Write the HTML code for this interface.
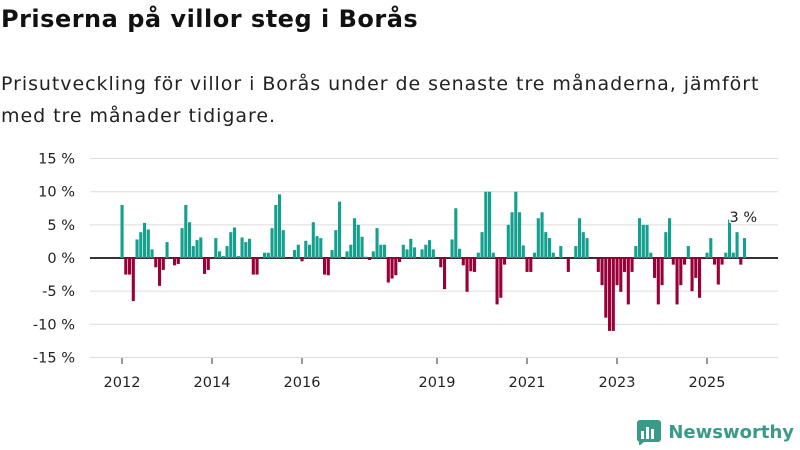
<!DOCTYPE html>
<html><head><meta charset="utf-8"><style>
body{margin:0;width:800px;height:450px;background:#fff;font-family:"DejaVu Sans","Liberation Sans",sans-serif;overflow:hidden;position:relative}
#title{position:absolute;left:1px;top:5px;font-size:24px;letter-spacing:0.5px;font-weight:bold;color:#111}
#subtitle{position:absolute;left:1px;top:68px;font-size:19px;letter-spacing:0.95px;line-height:32px;color:#222;width:798px;white-space:nowrap}
#logo{position:absolute;right:6px;top:419px;display:flex;align-items:center;font-size:18px;font-weight:bold;color:#3a9a88}
</style></head><body>
<div id="title">Priserna på villor steg i Borås</div>
<div id="subtitle">Prisutveckling för villor i Borås under de senaste tre månaderna, jämfört<br>med tre månader tidigare.</div>
<svg id="chart" width="800" height="450" style="position:absolute;left:0;top:0"></svg>
<div id="logo"><svg width="26" height="26" style="margin-right:6px"><rect x="1" y="1" width="24" height="22" rx="3" fill="#3a9a88"/><rect x="5" y="12" width="3" height="8" fill="#fff"/><rect x="10" y="8" width="3" height="12" fill="#fff"/><rect x="15" y="10" width="3" height="10" fill="#fff"/><path d="M3 23 L3 27 L8 23Z" fill="#3a9a88"/></svg>Newsworthy</div>
<script>
const values=[8,-2.5,-2.5,-6.5,2.8,3.9,5.3,4.3,1.3,-1.4,-4.2,-1.8,2.4,0,-1.1,-0.9,4.5,8,5.4,1.8,2.7,3.1,-2.4,-1.8,0,3,1,0.3,1.8,3.9,4.6,0.3,3.1,2.4,2.9,-2.5,-2.5,0,0.8,0.8,4.5,8,9.6,4.2,0,0,1.2,2.0,-0.5,2.6,2.0,5.4,3.3,3.0,-2.5,-2.6,1.2,4.2,8.5,0,1,2,6,5,3.2,0.2,-0.3,1,4.5,2,2,-3.7,-3.1,-2.6,-0.6,2,1.3,2.9,1.6,0,1.3,2,2.7,1.3,0,-1.4,-4.7,0,2.8,7.5,1.4,-1.1,-5.1,-2,-2.1,0.8,3.9,10,10,0.8,-7,-6,-1,5,6.9,10,6.9,1.9,-2.1,-2.1,0.8,6,6.9,3.9,3,0.8,0,1.8,0,-2.1,0,1.8,6,3.9,3,0,0,-2.1,-4.1,-9,-11,-11,-4.1,-5.1,-2.1,-7,-2.1,1.8,6,5,5,0.8,-3,-7,-4.1,3.9,6,-1,-7,-4.1,-1,1.8,-5,-3,-6,0,0.8,3,-1,-4,-1,0.8,5.8,0.8,3.9,-1,3];
const yTicks=[15,10,5,0,-5,-10,-15];
const xTickYears=[2012,2014,2016,2019,2021,2023,2025];
const startYear=2012;
const lastLabel="3 %";
const svg=document.getElementById('chart');const NS='http://www.w3.org/2000/svg';
const x=i=>121+i*3.75;
const y=v=>258-v*6.63;
function mk(t,a){const e=document.createElementNS(NS,t);for(const k in a)e.setAttribute(k,a[k]);svg.appendChild(e);return e;}
yTicks.forEach(v=>{
 const g=mk('line',{x1:90,x2:778,y1:y(v),y2:y(v),stroke:v===0?'#333':'#dcdcdc','stroke-width':v===0?2:1});
 
 
 const t=mk('text',{x:75,y:y(v)+5,'text-anchor':'end','font-size':14.5,fill:'#222'});t.textContent=v+' %';
 
 
});
xTickYears.forEach(yr=>{
 const i=(yr-startYear)*12;
 const l=mk('line',{x1:x(i)+1,x2:x(i)+1,y1:358,y2:364,stroke:'#333'});
 
 
 const t=mk('text',{x:x(i)+1,y:387,'text-anchor':'middle','font-size':14.5,fill:'#222'});t.textContent=yr;
 
 
});
values.forEach((v,i)=>{
 if(v===0)return;
 const r=mk('rect',{x:x(i)-0.5,width:3.1,y:Math.min(y(v),y(0)),height:Math.abs(y(v)-y(0)),fill:v>0?'#14a08f':'#980038'});
 
 
});
const li=values.length-1;
const lt=mk('text',{x:x(li)-14,y:222,'font-size':14.5,fill:'#222',stroke:'#fff','stroke-width':3,'paint-order':'stroke'});lt.textContent=lastLabel;


</script>
</body></html>
